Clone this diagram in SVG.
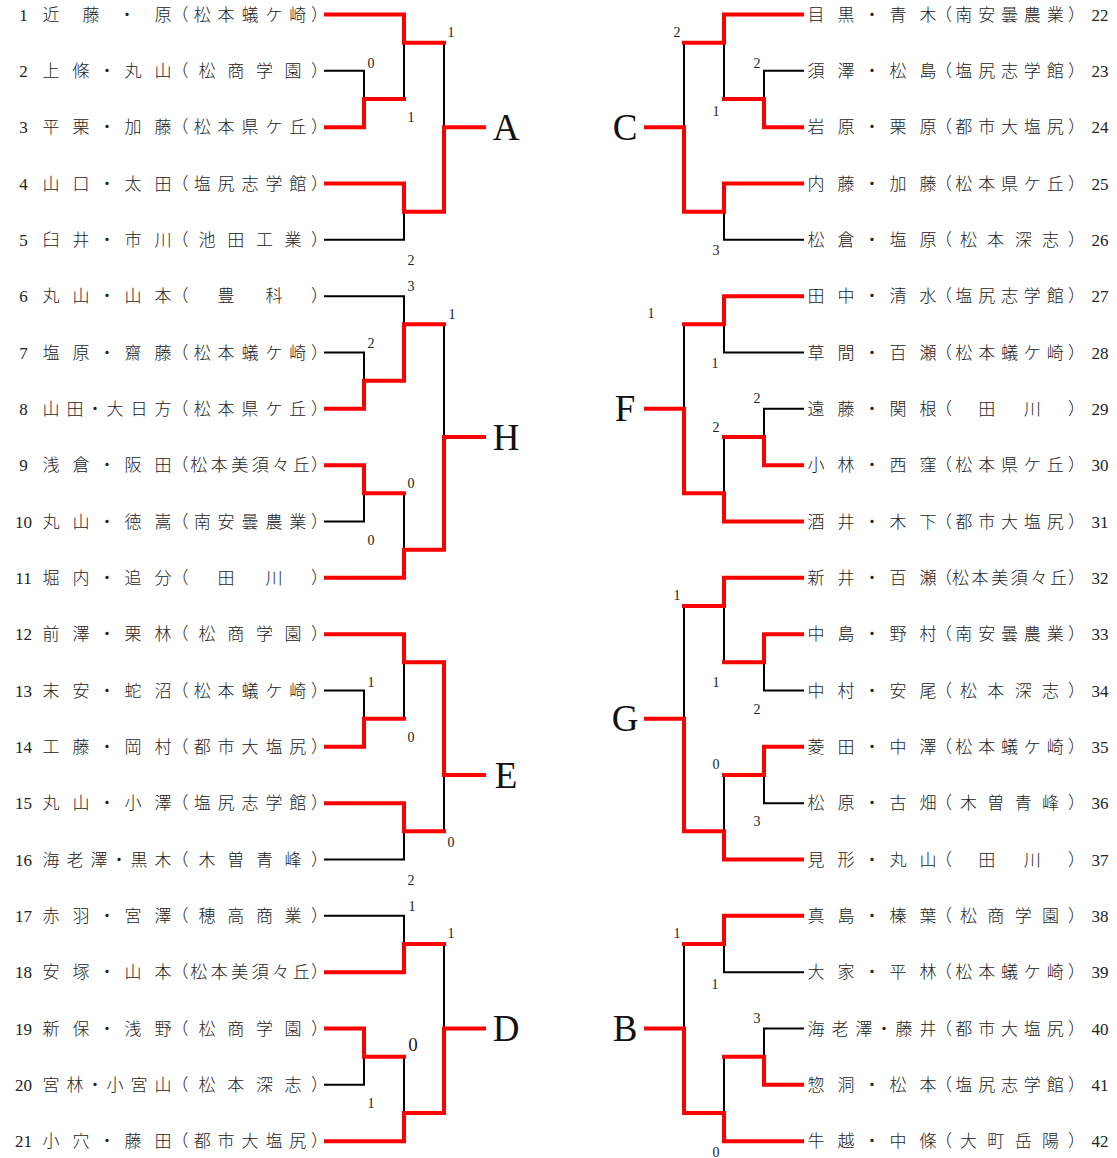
<svg xmlns="http://www.w3.org/2000/svg" width="1117" height="1158" viewBox="0 0 1117 1158">
<style>
.t{font-family:"Noto Sans CJK JP","Noto Sans CJK SC",sans-serif;font-size:17px;font-weight:300;fill:#222;text-anchor:middle}
.n{font-family:"Liberation Serif",serif;font-size:17px;fill:#222;text-anchor:middle}
.s{font-family:"Liberation Serif",serif;font-size:14px;fill:#222;text-anchor:middle}
.lab{font-family:"Liberation Serif",serif;font-size:37px;fill:#111;text-anchor:middle}
.k{fill:none;stroke:#000;stroke-width:2}
.r{fill:none;stroke:#f00;stroke-width:4;stroke-linecap:square;stroke-linejoin:miter}
</style>
<rect width="1117" height="1158" fill="#fff"/>
<g id="connectors">
<!-- A -->
<path class="k" d="M324,70.83H364V99M324,239.83H404V211.67M404,42.67V99M444,42.67V127.17"/>
<path class="r" d="M326,14.5H404V42.67H444"/>
<path class="r" d="M326,127.17H364V99H404"/>
<path class="r" d="M326,183.5H404V211.67H444V127.17H484"/>
<!-- H -->
<path class="k" d="M324,296.17H404V324.33M324,352.5H364V380.67M324,521.5H364V493.33M404,493.33V549.67M444,324.33V437"/>
<path class="r" d="M326,408.83H364V380.67H404V324.33H444"/>
<path class="r" d="M326,465.17H364V493.33H404"/>
<path class="r" d="M326,577.83H404V549.67H444V437H484"/>
<!-- E -->
<path class="k" d="M324,690.5H364V718.67M404,662.33V718.67M324,859.5H404V831.33M444,775V831.33"/>
<path class="r" d="M326,634.17H404V662.33H444V775H484"/>
<path class="r" d="M326,746.83H364V718.67H404"/>
<path class="r" d="M326,803.17H404V831.33H444"/>
<!-- D -->
<path class="k" d="M324,915.83H404V944M324,1084.83H364V1056.67M404,1056.67V1113M444,944V1028.5"/>
<path class="r" d="M326,972.17H404V944H444"/>
<path class="r" d="M326,1028.5H364V1056.67H404"/>
<path class="r" d="M326,1141.17H404V1113H444V1028.5H484"/>
<!-- C -->
<path class="k" d="M804,70.83H764V99M724,42.67V99M804,239.83H724V211.67M684,42.67V127.17"/>
<path class="r" d="M802,14.5H724V42.67H684"/>
<path class="r" d="M802,127.17H764V99H724"/>
<path class="r" d="M802,183.5H724V211.67H684V127.17H646"/>
<!-- F -->
<path class="k" d="M804,352.5H724V324.33M804,408.83H764V437M724,437V493.33M684,324.33V408.83"/>
<path class="r" d="M802,296.17H724V324.33H684"/>
<path class="r" d="M802,465.17H764V437H724"/>
<path class="r" d="M802,521.5H724V493.33H684V408.83H646"/>
<!-- G -->
<path class="k" d="M804,690.5H764V662.33M724,606V662.33M804,803.17H764V775M724,775V831.33M684,606V718.67"/>
<path class="r" d="M802,577.83H724V606H684"/>
<path class="r" d="M802,634.17H764V662.33H724"/>
<path class="r" d="M802,746.83H764V775H724"/>
<path class="r" d="M802,859.5H724V831.33H684V718.67H646"/>
<!-- B -->
<path class="k" d="M804,972.17H724V944M804,1028.5H764V1056.67M724,1056.67V1113M684,944V1028.5"/>
<path class="r" d="M802,915.83H724V944H684"/>
<path class="r" d="M802,1084.83H764V1056.67H724"/>
<path class="r" d="M802,1141.17H724V1113H684V1028.5H646"/>
</g>
<g id="scores">
<text class="s" x="451" y="36.7">1</text>
<text class="s" x="371" y="67.7">0</text>
<text class="s" x="411" y="121.7">1</text>
<text class="s" x="411" y="264.7">2</text>
<text class="s" x="411" y="290.7">3</text>
<text class="s" x="452" y="318.7">1</text>
<text class="s" x="371" y="347.7">2</text>
<text class="s" x="411" y="487.7">0</text>
<text class="s" x="371" y="544.7">0</text>
<text class="s" x="371" y="686.7">1</text>
<text class="s" x="411" y="741.7">0</text>
<text class="s" x="451" y="846.7">0</text>
<text class="s" x="411" y="884.7">2</text>
<text class="s" x="412" y="910.7">1</text>
<text class="s" x="451" y="937.7">1</text>
<text class="s" x="413" y="1051.4" style="font-size:19px">0</text>
<text class="s" x="371" y="1107.7">1</text>
<text class="s" x="677" y="36.7">2</text>
<text class="s" x="757" y="67.7">2</text>
<text class="s" x="716" y="115.7">1</text>
<text class="s" x="716" y="254.7">3</text>
<text class="s" x="651" y="317.7">1</text>
<text class="s" x="715" y="367.7">1</text>
<text class="s" x="757" y="402.7">2</text>
<text class="s" x="716" y="431.7">2</text>
<text class="s" x="677" y="599.7">1</text>
<text class="s" x="716" y="686.7">1</text>
<text class="s" x="757" y="713.7">2</text>
<text class="s" x="716" y="768.7">0</text>
<text class="s" x="757" y="825.7">3</text>
<text class="s" x="677" y="937.7">1</text>
<text class="s" x="715" y="988.7">1</text>
<text class="s" x="757" y="1022.7">3</text>
<text class="s" x="716" y="1156.7">0</text>
</g>
<g id="blockA"><text class="lab" x="506" y="139.7">A</text></g>
<g id="blockH"><text class="lab" x="506" y="449.5">H</text></g>
<g id="blockE"><text class="lab" x="506" y="787.5">E</text></g>
<g id="blockD"><text class="lab" x="506" y="1041">D</text></g>
<g id="blockC"><text class="lab" x="625" y="139.7">C</text></g>
<g id="blockF"><text class="lab" x="625" y="421.3">F</text></g>
<g id="blockG"><text class="lab" x="625" y="731.2">G</text></g>
<g id="blockB"><text class="lab" x="625" y="1041">B</text></g>
<g id="p1"><text class="n" x="23.5" y="20.8">1</text><text class="t" x="51 91 127 163 180 202.2 226.1 250 273.9 297.8 319.5" y="20.8">近藤・原（松本蟻ケ崎）</text></g>
<g id="p2"><text class="n" x="23.5" y="77.13">2</text><text class="t" x="51 81 107 133 163 180 207 235.7 264.4 293 319.5" y="77.13">上條・丸山（松商学園）</text></g>
<g id="p3"><text class="n" x="23.5" y="133.47">3</text><text class="t" x="51 81 107 133 163 180 202.2 226.1 250 273.9 297.8 319.5" y="133.47">平栗・加藤（松本県ケ丘）</text></g>
<g id="p4"><text class="n" x="23.5" y="189.8">4</text><text class="t" x="51 81 107 133 163 180 202.2 226.1 250 273.9 297.8 319.5" y="189.8">山口・太田（塩尻志学館）</text></g>
<g id="p5"><text class="n" x="23.5" y="246.13">5</text><text class="t" x="51 81 107 133 163 180 207 235.7 264.4 293 319.5" y="246.13">臼井・市川（池田工業）</text></g>
<g id="p6"><text class="n" x="23.5" y="302.47">6</text><text class="t" x="51 81 107 133 163 180 226.1 273.9 319.5" y="302.47">丸山・山本（豊科）</text></g>
<g id="p7"><text class="n" x="23.5" y="358.8">7</text><text class="t" x="51 81 107 133 163 180 202.2 226.1 250 273.9 297.8 319.5" y="358.8">塩原・齋藤（松本蟻ケ崎）</text></g>
<g id="p8"><text class="n" x="23.5" y="415.13">8</text><text class="t" x="51 75 95 115 139 163 180 202.2 226.1 250 273.9 297.8 319.5" y="415.13">山田・大日方（松本県ケ丘）</text></g>
<g id="p9"><text class="n" x="23.5" y="471.47">9</text><text class="t" x="51 81 107 133 163 180 198.8 219.3 239.7 260.2 280.7 301.2 319.5" y="471.47">浅倉・阪田（松本美須々丘）</text></g>
<g id="p10"><text class="n" x="23.5" y="527.8">10</text><text class="t" x="51 81 107 133 163 180 202.2 226.1 250 273.9 297.8 319.5" y="527.8">丸山・徳嵩（南安曇農業）</text></g>
<g id="p11"><text class="n" x="23.5" y="584.13">11</text><text class="t" x="51 81 107 133 163 180 226.1 273.9 319.5" y="584.13">堀内・追分（田川）</text></g>
<g id="p12"><text class="n" x="23.5" y="640.47">12</text><text class="t" x="51 81 107 133 163 180 207 235.7 264.4 293 319.5" y="640.47">前澤・栗林（松商学園）</text></g>
<g id="p13"><text class="n" x="23.5" y="696.8">13</text><text class="t" x="51 81 107 133 163 180 202.2 226.1 250 273.9 297.8 319.5" y="696.8">末安・蛇沼（松本蟻ケ崎）</text></g>
<g id="p14"><text class="n" x="23.5" y="753.13">14</text><text class="t" x="51 81 107 133 163 180 202.2 226.1 250 273.9 297.8 319.5" y="753.13">工藤・岡村（都市大塩尻）</text></g>
<g id="p15"><text class="n" x="23.5" y="809.47">15</text><text class="t" x="51 81 107 133 163 180 202.2 226.1 250 273.9 297.8 319.5" y="809.47">丸山・小澤（塩尻志学館）</text></g>
<g id="p16"><text class="n" x="23.5" y="865.8">16</text><text class="t" x="51 75 99 119 139 163 180 207 235.7 264.4 293 319.5" y="865.8">海老澤・黒木（木曽青峰）</text></g>
<g id="p17"><text class="n" x="23.5" y="922.13">17</text><text class="t" x="51 81 107 133 163 180 207 235.7 264.4 293 319.5" y="922.13">赤羽・宮澤（穂高商業）</text></g>
<g id="p18"><text class="n" x="23.5" y="978.47">18</text><text class="t" x="51 81 107 133 163 180 198.8 219.3 239.7 260.2 280.7 301.2 319.5" y="978.47">安塚・山本（松本美須々丘）</text></g>
<g id="p19"><text class="n" x="23.5" y="1034.8">19</text><text class="t" x="51 81 107 133 163 180 207 235.7 264.4 293 319.5" y="1034.8">新保・浅野（松商学園）</text></g>
<g id="p20"><text class="n" x="23.5" y="1091.13">20</text><text class="t" x="51 75 95 115 139 163 180 207 235.7 264.4 293 319.5" y="1091.13">宮林・小宮山（松本深志）</text></g>
<g id="p21"><text class="n" x="23.5" y="1147.47">21</text><text class="t" x="51 81 107 133 163 180 202.2 226.1 250 273.9 297.8 319.5" y="1147.47">小穴・藤田（都市大塩尻）</text></g>
<g id="p22"><text class="t" x="816 846 872 898 928 943.5 963.8 986.7 1009.5 1032.3 1055.2 1076.5" y="20.8">目黒・青木（南安曇農業）</text><text class="n" x="1100" y="20.8">22</text></g>
<g id="p23"><text class="t" x="816 846 872 898 928 943.5 963.8 986.7 1009.5 1032.3 1055.2 1076.5" y="77.13">須澤・松島（塩尻志学館）</text><text class="n" x="1100" y="77.13">23</text></g>
<g id="p24"><text class="t" x="816 846 872 898 928 943.5 963.8 986.7 1009.5 1032.3 1055.2 1076.5" y="133.47">岩原・栗原（都市大塩尻）</text><text class="n" x="1100" y="133.47">24</text></g>
<g id="p25"><text class="t" x="816 846 872 898 928 943.5 963.8 986.7 1009.5 1032.3 1055.2 1076.5" y="189.8">内藤・加藤（松本県ケ丘）</text><text class="n" x="1100" y="189.8">25</text></g>
<g id="p26"><text class="t" x="816 846 872 898 928 943.5 968.4 995.8 1023.2 1050.6 1076.5" y="246.13">松倉・塩原（松本深志）</text><text class="n" x="1100" y="246.13">26</text></g>
<g id="p27"><text class="t" x="816 846 872 898 928 943.5 963.8 986.7 1009.5 1032.3 1055.2 1076.5" y="302.47">田中・清水（塩尻志学館）</text><text class="n" x="1100" y="302.47">27</text></g>
<g id="p28"><text class="t" x="816 846 872 898 928 943.5 963.8 986.7 1009.5 1032.3 1055.2 1076.5" y="358.8">草間・百瀬（松本蟻ケ崎）</text><text class="n" x="1100" y="358.8">28</text></g>
<g id="p29"><text class="t" x="816 846 872 898 928 943.5 986.7 1032.3 1076.5" y="415.13">遠藤・関根（田川）</text><text class="n" x="1100" y="415.13">29</text></g>
<g id="p30"><text class="t" x="816 846 872 898 928 943.5 963.8 986.7 1009.5 1032.3 1055.2 1076.5" y="471.47">小林・西窪（松本県ケ丘）</text><text class="n" x="1100" y="471.47">30</text></g>
<g id="p31"><text class="t" x="816 846 872 898 928 943.5 963.8 986.7 1009.5 1032.3 1055.2 1076.5" y="527.8">酒井・木下（都市大塩尻）</text><text class="n" x="1100" y="527.8">31</text></g>
<g id="p32"><text class="t" x="816 846 872 898 928 943.5 960.6 980.1 999.7 1019.3 1038.9 1058.4 1076.5" y="584.13">新井・百瀬（松本美須々丘）</text><text class="n" x="1100" y="584.13">32</text></g>
<g id="p33"><text class="t" x="816 846 872 898 928 943.5 963.8 986.7 1009.5 1032.3 1055.2 1076.5" y="640.47">中島・野村（南安曇農業）</text><text class="n" x="1100" y="640.47">33</text></g>
<g id="p34"><text class="t" x="816 846 872 898 928 943.5 968.4 995.8 1023.2 1050.6 1076.5" y="696.8">中村・安尾（松本深志）</text><text class="n" x="1100" y="696.8">34</text></g>
<g id="p35"><text class="t" x="816 846 872 898 928 943.5 963.8 986.7 1009.5 1032.3 1055.2 1076.5" y="753.13">菱田・中澤（松本蟻ケ崎）</text><text class="n" x="1100" y="753.13">35</text></g>
<g id="p36"><text class="t" x="816 846 872 898 928 943.5 968.4 995.8 1023.2 1050.6 1076.5" y="809.47">松原・古畑（木曽青峰）</text><text class="n" x="1100" y="809.47">36</text></g>
<g id="p37"><text class="t" x="816 846 872 898 928 943.5 986.7 1032.3 1076.5" y="865.8">見形・丸山（田川）</text><text class="n" x="1100" y="865.8">37</text></g>
<g id="p38"><text class="t" x="816 846 872 898 928 943.5 968.4 995.8 1023.2 1050.6 1076.5" y="922.13">真島・榛葉（松商学園）</text><text class="n" x="1100" y="922.13">38</text></g>
<g id="p39"><text class="t" x="816 846 872 898 928 943.5 963.8 986.7 1009.5 1032.3 1055.2 1076.5" y="978.47">大家・平林（松本蟻ケ崎）</text><text class="n" x="1100" y="978.47">39</text></g>
<g id="p40"><text class="t" x="816 840 864 884 904 928 943.5 963.8 986.7 1009.5 1032.3 1055.2 1076.5" y="1034.8">海老澤・藤井（都市大塩尻）</text><text class="n" x="1100" y="1034.8">40</text></g>
<g id="p41"><text class="t" x="816 846 872 898 928 943.5 963.8 986.7 1009.5 1032.3 1055.2 1076.5" y="1091.13">惣洞・松本（塩尻志学館）</text><text class="n" x="1100" y="1091.13">41</text></g>
<g id="p42"><text class="t" x="816 846 872 898 928 943.5 968.4 995.8 1023.2 1050.6 1076.5" y="1147.47">牛越・中條（大町岳陽）</text><text class="n" x="1100" y="1147.47">42</text></g>
</svg>
